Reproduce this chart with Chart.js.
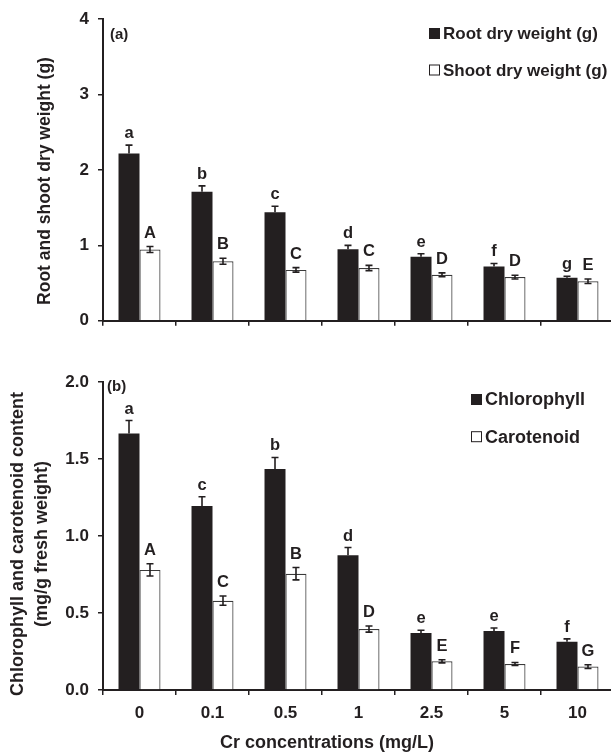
<!DOCTYPE html>
<html>
<head>
<meta charset="utf-8">
<script src="https://cdn.jsdelivr.net/npm/chart.js@4/dist/chart.umd.min.js"></script>
<style>
  html, body { margin: 0; padding: 0; background: #fff; overflow: hidden; }
  #wrap { position: relative; width: 611px; height: 756px; overflow: hidden; background: #fff; }
  #wrap canvas { position: absolute; left: 0; }
  #panelA { top: 0; }
  #panelB { top: 340px; }
</style>
</head>
<body>
<div id="wrap">
  <canvas id="panelA" width="614" height="340"></canvas>
  <canvas id="panelB" width="614" height="416"></canvas>
</div>
<script>
// Cr treatment levels (mg/L)
const concentrations = ['0', '0.1', '0.5', '1', '2.5', '5', '10'];

// (a) dry weights, g (mean, SE)
const rootDry    = [2.22, 1.71, 1.44, 0.95, 0.85, 0.72, 0.57];
const rootErr    = [0.11, 0.08, 0.08, 0.05, 0.04, 0.04, 0.02];
const shootDry   = [0.945, 0.79, 0.675, 0.70, 0.61, 0.58, 0.525];
const shootErr   = [0.04, 0.04, 0.03, 0.035, 0.025, 0.025, 0.03];
const rootGroups  = ['a', 'b', 'c', 'd', 'e', 'f', 'g'];
const shootGroups = ['A', 'B', 'C', 'C', 'D', 'D', 'E'];

// (b) pigments, mg/g fresh weight (mean, SE)
const chlorophyll = [1.665, 1.195, 1.435, 0.875, 0.37, 0.383, 0.314];
const chlErr      = [0.085, 0.06, 0.075, 0.05, 0.018, 0.02, 0.018];
const carotenoid  = [0.78, 0.58, 0.755, 0.396, 0.186, 0.169, 0.152];
const carErr      = [0.04, 0.03, 0.04, 0.02, 0.01, 0.01, 0.012];
const chlGroups   = ['a', 'c', 'b', 'd', 'e', 'e', 'f'];
const carGroups   = ['A', 'C', 'B', 'D', 'E', 'F', 'G'];

// y-axis ticks
const ticksA = [0, 1, 2, 3, 4];
const ticksB = [0, 0.5, 1.0, 1.5, 2.0];

const FONT = "'Liberation Sans', Arial, Helvetica, sans-serif";
const INK = '#231f20';

// Error bars, significance letters, legend, panel tag and axis titles
const decor = {
  id: 'decor',
  afterDatasetsDraw(chart, args, opts) {
    const ctx = chart.ctx;
    const yScale = chart.scales.y;
    ctx.save();
    chart.data.datasets.forEach((ds, di) => {
      const meta = chart.getDatasetMeta(di);
      meta.data.forEach((bar, i) => {
        const v = ds.data[i], e = ds.err[i];
        const yTop = yScale.getPixelForValue(v + e);
        const yLow = ds.errBoth ? yScale.getPixelForValue(v - e) : bar.y;
        const x = bar.x;
        ctx.strokeStyle = INK;
        ctx.lineWidth = 1.6;
        ctx.beginPath();
        ctx.moveTo(x, yLow); ctx.lineTo(x, yTop);
        ctx.moveTo(x - 3.5, yTop); ctx.lineTo(x + 3.5, yTop);
        if (ds.errBoth) { ctx.moveTo(x - 3.5, yLow); ctx.lineTo(x + 3.5, yLow); }
        ctx.stroke();
        ctx.fillStyle = INK;
        ctx.font = 'bold 16.5px ' + FONT;
        ctx.textAlign = 'center';
        ctx.textBaseline = 'alphabetic';
        ctx.fillText(ds.groups[i], x, yTop - ds.letterGap);
      });
    });
    ctx.restore();
  },
  afterDraw(chart, args, opts) {
    const ctx = chart.ctx;
    ctx.save();
    ctx.fillStyle = INK;
    // panel tag
    ctx.font = 'bold 15px ' + FONT;
    ctx.textAlign = 'left';
    ctx.textBaseline = 'middle';
    ctx.fillText(opts.tag, opts.tagX, opts.tagY);
    // legend
    chart.data.datasets.forEach((ds, di) => {
      const y = opts.legendY[di];
      ctx.fillStyle = ds.backgroundColor;
      ctx.fillRect(opts.legendX, y - 5.5, 11, 11);
      ctx.strokeStyle = INK;
      ctx.lineWidth = 1;
      ctx.strokeRect(opts.legendX + 0.5, y - 5, 10, 10);
      ctx.fillStyle = INK;
      ctx.font = 'bold ' + opts.legendSize + 'px ' + FONT;
      ctx.textAlign = 'left';
      ctx.textBaseline = 'middle';
      ctx.fillText(ds.label, opts.legendX + 14, y + 1);
    });
    // y-axis title (rotated)
    ctx.font = 'bold ' + opts.yTitleSize + 'px ' + FONT;
    ctx.textAlign = 'center';
    ctx.textBaseline = 'middle';
    opts.yTitle.forEach((line, k) => {
      ctx.save();
      ctx.translate(opts.yTitleX[k], opts.yTitleY);
      ctx.rotate(-Math.PI / 2);
      ctx.fillText(line, 0, 0);
      ctx.restore();
    });
    // x-axis title
    if (opts.xTitle) {
      ctx.font = 'bold 18px ' + FONT;
      ctx.textAlign = 'center';
      ctx.textBaseline = 'middle';
      ctx.fillText(opts.xTitle, opts.xTitleX, opts.xTitleY);
    }
    ctx.restore();
  }
};

function panel(canvasId, cfg) {
  return new Chart(document.getElementById(canvasId), {
    type: 'bar',
    data: {
      labels: concentrations,
      datasets: [
        { label: cfg.names[0], data: cfg.dark, err: cfg.darkErr, groups: cfg.darkGroups,
          errBoth: false, letterGap: 7,
          backgroundColor: INK, borderColor: INK, borderWidth: 0 },
        { label: cfg.names[1], data: cfg.light, err: cfg.lightErr, groups: cfg.lightGroups,
          errBoth: true, letterGap: 9,
          backgroundColor: '#ffffff', borderColor: '#3a3a3a', borderWidth: 1.2 }
      ]
    },
    options: {
      responsive: false,
      animation: false,
      devicePixelRatio: 1,
      categoryPercentage: 0.575,
      barPercentage: 1.0,
      layout: { padding: { top: cfg.top, left: 0, right: 0, bottom: 0 } },
      plugins: {
        legend: { display: false },
        tooltip: { enabled: false },
        decor: cfg.decor
      },
      scales: {
        x: {
          offset: true,
          grid: { display: true, offset: true, drawOnChartArea: false, drawTicks: true,
                  tickLength: 5, color: INK, lineWidth: 1.5 },
          border: { display: true, color: INK, width: 2 },
          ticks: { display: cfg.showX, color: INK, padding: 8,
                   font: { family: FONT, size: 17, weight: 'bold' } },
          afterFit: s => { s.height = cfg.xHeight; }
        },
        y: {
          min: 0,
          max: cfg.ticks[cfg.ticks.length - 1],
          afterBuildTicks: s => { s.ticks = cfg.ticks.map(v => ({ value: v })); },
          ticks: { color: INK, padding: 9, font: { family: FONT, size: 17, weight: 'bold' },
                   callback: cfg.fmt },
          grid: { drawOnChartArea: false, drawTicks: true, tickLength: 5, color: INK, lineWidth: 1.5 },
          border: { display: true, color: INK, width: 2 },
          afterFit: s => { s.width = 103; }
        }
      }
    },
    plugins: [decor]
  });
}

panel('panelA', {
  names: ['Root dry weight (g)', 'Shoot dry weight (g)'],
  dark: rootDry, darkErr: rootErr, darkGroups: rootGroups,
  light: shootDry, lightErr: shootErr, lightGroups: shootGroups,
  ticks: ticksA, fmt: v => String(v),
  top: 15, xHeight: 13, showX: false,
  decor: {
    tag: '(a)', tagX: 110, tagY: 35,
    legendX: 429, legendY: [33.5, 70], legendSize: 17,
    yTitle: ['Root and shoot dry weight (g)'], yTitleX: [45], yTitleY: 181, yTitleSize: 17.5
  }
});

panel('panelB', {
  names: ['Chlorophyll', 'Carotenoid'],
  dark: chlorophyll, darkErr: chlErr, darkGroups: chlGroups,
  light: carotenoid, lightErr: carErr, lightGroups: carGroups,
  ticks: ticksB, fmt: v => Number(v).toFixed(1),
  top: 42, xHeight: 66, showX: true,
  decor: {
    tag: '(b)', tagX: 107, tagY: 47,
    legendX: 471, legendY: [59.5, 96.7], legendSize: 18,
    yTitle: ['Chlorophyll and carotenoid content', '(mg/g fresh weight)'],
    yTitleX: [18, 42], yTitleY: 204, yTitleSize: 18,
    xTitle: 'Cr concentrations (mg/L)', xTitleX: 327, xTitleY: 403
  }
});
</script>
</body>
</html>
